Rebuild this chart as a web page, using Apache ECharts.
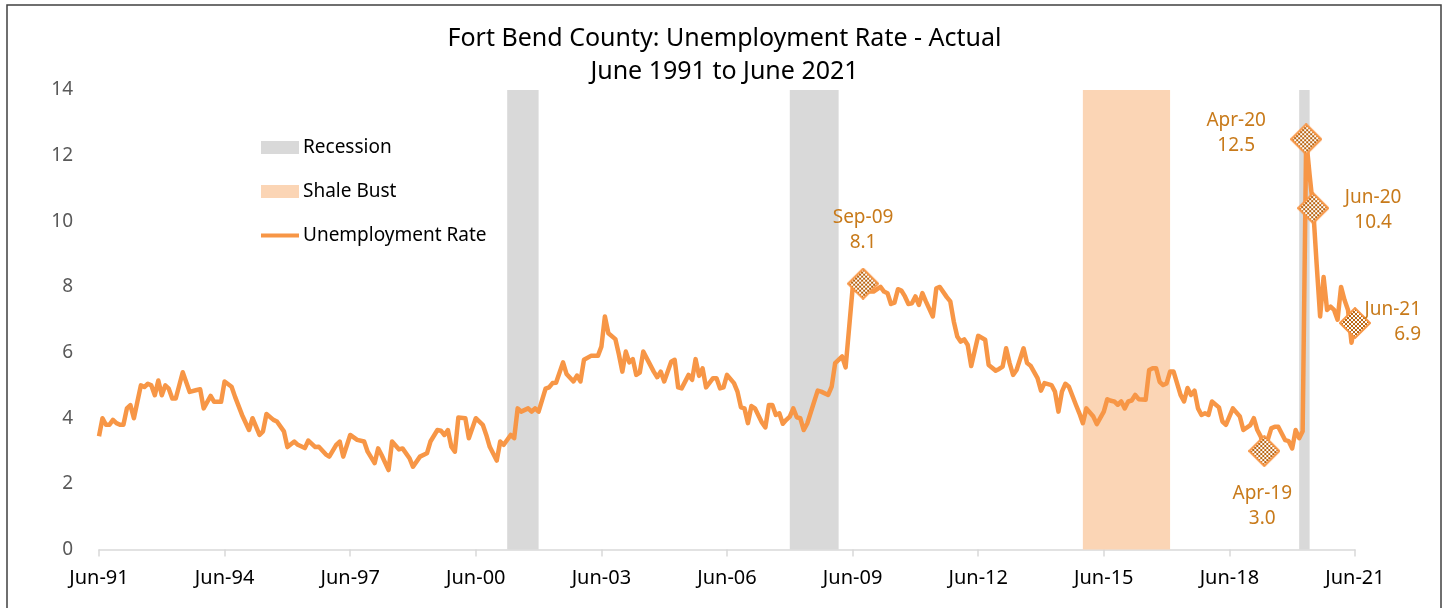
<!DOCTYPE html>
<html>
<head>
<meta charset="utf-8">
<script src="https://cdn.jsdelivr.net/npm/echarts@6/dist/echarts.min.js"></script>
<style>
  html, body { margin: 0; padding: 0; background: #fff; }
  #chart { width: 1449px; height: 608px; }
</style>
</head>
<body>
<div id="chart"></div>
<script>
// x positions are months since Jun-91
const xTickLabels = ['Jun-91', 'Jun-94', 'Jun-97', 'Jun-00', 'Jun-03', 'Jun-06',
  'Jun-09', 'Jun-12', 'Jun-15', 'Jun-18', 'Jun-21'];

const monthOffsets = [
  0, 1, 2, 3, 4, 5, 6, 7, 8, 9, 10, 11, 12, 13, 14, 15, 16, 17, 18, 19, 20, 21, 22, 24, 26, 28, 29, 30,
  32, 33, 35, 36, 38, 39, 41, 43, 44, 46, 47, 48, 50, 51, 53, 54, 56, 57, 59, 60, 62, 63, 65, 66, 68, 69,
  70, 72, 74, 76, 77, 79, 80, 81, 83, 84, 86, 87, 89, 90, 92, 94, 95, 97, 98, 99, 100, 101, 102, 103, 105,
  106, 108, 110, 111, 112, 114, 115, 116, 118, 119, 120, 121, 123, 124, 125, 126, 128, 129, 130, 131, 133,
  134, 136, 137, 138, 139, 141, 143, 144, 145, 146, 148, 149, 150, 151, 152, 153, 154, 155, 156, 159, 160,
  161, 162, 164, 165, 166, 167, 169, 170, 171, 172, 173, 174, 176, 177, 178, 179, 180, 182, 183, 184, 185,
  186, 187, 188, 190, 191, 192, 193, 194, 195, 196, 197, 198, 199, 200, 201, 202, 203, 205, 206, 207, 209,
  210, 211, 213, 214, 216, 217, 218, 219, 221, 222, 224, 225, 226, 227, 228, 229, 230, 231, 232, 233, 234,
  235, 236, 237, 239, 240, 241, 243, 244, 245, 246, 247, 248, 249, 250, 252, 254, 255, 257, 258, 259, 260,
  261, 262, 263, 265, 266, 267, 269, 270, 271, 273, 274, 275, 276, 277, 278, 280, 281, 282, 283, 285, 286,
  288, 289, 290, 291, 292, 293, 294, 295, 296, 297, 298, 300, 301, 302, 303, 304, 305, 306, 307, 308, 310,
  311, 312, 313, 314, 315, 316, 317, 318, 319, 321, 322, 323, 325, 327, 328, 330, 331, 332, 333, 334, 336,
  337, 338, 340, 341, 342, 343, 344, 345, 346, 347, 348, 349, 350, 351, 352, 353, 354, 355, 356, 357, 358,
  359, 360
];

const rates = [
  3.45, 4.0, 3.8, 3.8, 3.95, 3.85, 3.8, 3.8, 4.3, 4.4, 4.0, 4.5, 5.0, 4.95, 5.05, 5.0, 4.7, 5.15, 4.7, 5.0, 4.9, 4.6, 4.6, 5.4, 4.8, 4.86, 4.88, 4.3,
  4.68, 4.5, 4.5, 5.12, 4.96, 4.65, 4.1, 3.64, 4.0, 3.49, 3.6, 4.13, 3.95, 3.9, 3.6, 3.12, 3.29, 3.19, 3.09, 3.32, 3.12, 3.13, 2.9, 2.83, 3.19, 3.29,
  2.83, 3.49, 3.34, 3.29, 2.98, 2.63, 3.08, 2.88, 2.42, 3.29, 3.05, 3.08, 2.78, 2.52, 2.83, 2.93, 3.29, 3.64, 3.62, 3.49, 3.64, 3.13, 2.98, 4.02, 4.0,
  3.39, 4.0, 3.8, 3.49, 3.13, 2.71, 3.29, 3.19, 3.49, 3.39, 4.3, 4.2, 4.3, 4.2, 4.3, 4.2, 4.9, 4.94, 5.07, 5.08, 5.7,
  5.35, 5.12, 5.3, 5.12, 5.78, 5.9, 5.9, 6.18, 7.1, 6.59, 6.41, 5.95, 5.42, 6.03, 5.7, 5.8, 5.32, 5.39, 6.03, 5.42, 5.25,
  5.42, 5.12, 5.72, 5.78, 4.94, 4.91, 5.32, 5.17, 5.8, 5.29, 5.52, 4.94, 5.22, 5.22, 4.91, 4.94, 5.32, 5.07, 4.81, 4.33, 4.3,
  3.85, 4.37, 4.3, 3.87, 3.72, 4.4, 4.4, 4.1, 4.15, 3.83, 3.95, 4.05, 4.3, 4.03, 4.0, 3.64, 3.84, 4.51, 4.84, 4.81, 4.71,
  4.96, 5.68, 5.88, 5.55, 7.95, 7.9, 7.95, 8.1, 7.86, 7.86, 8.0, 7.86, 7.81, 7.48, 7.52, 7.93, 7.89, 7.71, 7.48, 7.5, 7.71,
  7.45, 7.81, 7.56, 7.1, 7.96, 8.0, 7.69, 7.56, 6.95, 6.49, 6.33, 6.4, 6.23, 5.59, 6.51, 6.39, 5.62, 5.45, 5.5, 5.57, 6.13,
  5.68, 5.32, 5.47, 6.13, 5.68, 5.6, 5.22, 4.84, 5.07, 5.01, 4.81, 4.2, 4.81, 5.05, 4.96, 4.41, 4.15, 3.85, 4.3, 4.05, 3.82,
  4.2, 4.58, 4.53, 4.51, 4.41, 4.51, 4.3, 4.51, 4.54, 4.71, 4.58, 4.56, 5.47, 5.52, 5.52, 5.11, 5.01, 5.06, 5.42, 5.42, 4.71,
  4.51, 4.92, 4.71, 4.84, 4.3, 4.1, 4.15, 4.1, 4.51, 4.33, 3.9, 3.8, 4.3, 4.05, 3.64, 3.79, 4.0, 3.64, 3.44, 3.0, 3.69,
  3.74, 3.74, 3.33, 3.3, 3.08, 3.64, 3.39, 3.6, 12.5, 11.4, 10.4, 8.7, 7.1, 8.3, 7.3, 7.4, 7.3, 7.0, 8.0, 7.6, 7.3,
  6.3, 6.9
];

// shaded periods [start, end] in months since Jun-91
const recessions = [[117, 126], [198, 212], [344, 347]];
const shaleBust = [[282, 307]];

// called-out points
const calloutMonths = [219, 334, 346, 348, 360];
const calloutNames = ['Sep-09', 'Apr-19', 'Apr-20', 'Jun-20', 'Jun-21'];

const ORANGE = '#F79646';
const LABEL_ORANGE = '#C87A1A';

// checkered diamond marker drawn once, used as an image symbol
function diamondMarker(size) {
  const c = document.createElement('canvas');
  c.width = size; c.height = size;
  const ctx = c.getContext('2d');
  const h = size / 2;
  ctx.beginPath();
  ctx.moveTo(h, 1); ctx.lineTo(size - 1, h); ctx.lineTo(h, size - 1); ctx.lineTo(1, h);
  ctx.closePath();
  ctx.save();
  ctx.clip();
  ctx.fillStyle = '#B8620E';
  ctx.fillRect(0, 0, size, size);
  ctx.fillStyle = '#fff';
  for (let y = 0; y < size; y += 2) {
    for (let x = 0; x < size; x += 2) {
      if (((x + y) / 2) % 2 === 0) ctx.fillRect(x, y, 2, 2);
    }
  }
  ctx.restore();
  ctx.strokeStyle = ORANGE;
  ctx.lineWidth = 2;
  ctx.stroke();
  return c.toDataURL();
}
const markerImg = 'image://' + diamondMarker(32);

const labelPlace = {
  'Sep-09': { offset: [0, -54], align: 'center' },
  'Apr-19': { offset: [-2, 55], align: 'center' },
  'Apr-20': { offset: [-70, -6], align: 'center' },
  'Jun-20': { offset: [60, 2], align: 'center' },
  'Jun-21': { offset: [66, -1], align: 'right' }
};

const lineData = monthOffsets.map((m, i) => [m, rates[i]]);
const calloutData = calloutMonths.map((m, i) => {
  const v = rates[monthOffsets.indexOf(m)];
  return {
    name: calloutNames[i],
    value: [m, v],
    label: labelPlace[calloutNames[i]]
  };
});

const chart = echarts.init(document.getElementById('chart'));
chart.setOption({
  animation: false,
  textStyle: { fontFamily: 'Noto Sans' },
  title: {
    text: 'Fort Bend County: Unemployment Rate - Actual\nJune 1991 to June 2021',
    left: 'center',
    top: 17,
    textStyle: { fontSize: 25, fontWeight: 'normal', color: '#000', lineHeight: 33 }
  },
  legend: {
    orient: 'vertical',
    left: 261,
    top: 138,
    padding: 0,
    itemWidth: 38,
    itemHeight: 13,
    itemGap: 25,
    textStyle: { fontSize: 19, color: '#000', padding: [0, 0, 0, -1] },
    data: [
      { name: 'Recession', icon: 'rect' },
      { name: 'Shale Bust', icon: 'rect' },
      { name: 'Unemployment Rate', icon: 'path://M0,0H38V4H0Z' }
    ]
  },
  grid: { left: 99, right: 94, top: 90, bottom: 58.5 },
  xAxis: {
    type: 'value',
    min: 0,
    max: 360,
    interval: 36,
    axisLine: { lineStyle: { color: '#D9D9D9', width: 1.5 } },
    axisTick: { show: true, length: 7, lineStyle: { color: '#D9D9D9', width: 1.5 } },
    splitLine: { show: false },
    axisLabel: {
      margin: 19,
      fontSize: 20,
      color: '#000',
      formatter: v => xTickLabels[Math.round(v / 36)]
    }
  },
  yAxis: {
    type: 'value',
    min: 0,
    max: 14,
    interval: 2,
    axisLine: { show: false },
    axisTick: { show: false },
    splitLine: { show: false },
    axisLabel: { margin: 26, fontSize: 19, color: '#595959' }
  },
  series: [
    {
      name: 'Recession',
      type: 'bar',
      data: [],
      itemStyle: { color: '#D9D9D9' },
      z: 1,
      markArea: {
        silent: true,
        itemStyle: { color: '#D9D9D9' },
        data: recessions.map(r => [{ xAxis: r[0] }, { xAxis: r[1] }])
      }
    },
    {
      name: 'Shale Bust',
      type: 'bar',
      data: [],
      itemStyle: { color: '#FBD5B5' },
      z: 1,
      markArea: {
        silent: true,
        itemStyle: { color: '#FBD5B5' },
        data: shaleBust.map(r => [{ xAxis: r[0] }, { xAxis: r[1] }])
      }
    },
    {
      name: 'Unemployment Rate',
      type: 'line',
      data: lineData,
      symbol: 'none',
      itemStyle: { color: ORANGE },
      lineStyle: { color: ORANGE, width: 4.5, join: 'round' },
      z: 3
    },
    {
      name: 'callouts',
      type: 'scatter',
      data: calloutData,
      symbol: markerImg,
      symbolSize: 32,
      itemStyle: { opacity: 1 },
      label: {
        show: true,
        position: 'inside',
        verticalAlign: 'middle',
        color: LABEL_ORANGE,
        fontSize: 19,
        lineHeight: 25,
        opacity: 1,
        formatter: p => p.name + '\n' + p.value[1].toFixed(1)
      },
      z: 4
    }
  ],
  graphic: [
    {
      type: 'rect',
      shape: { x: 7, y: 5, width: 1434, height: 640 },
      style: { fill: 'none', stroke: '#404040', lineWidth: 1.5 },
      silent: true
    }
  ]
});
</script>
</body>
</html>
